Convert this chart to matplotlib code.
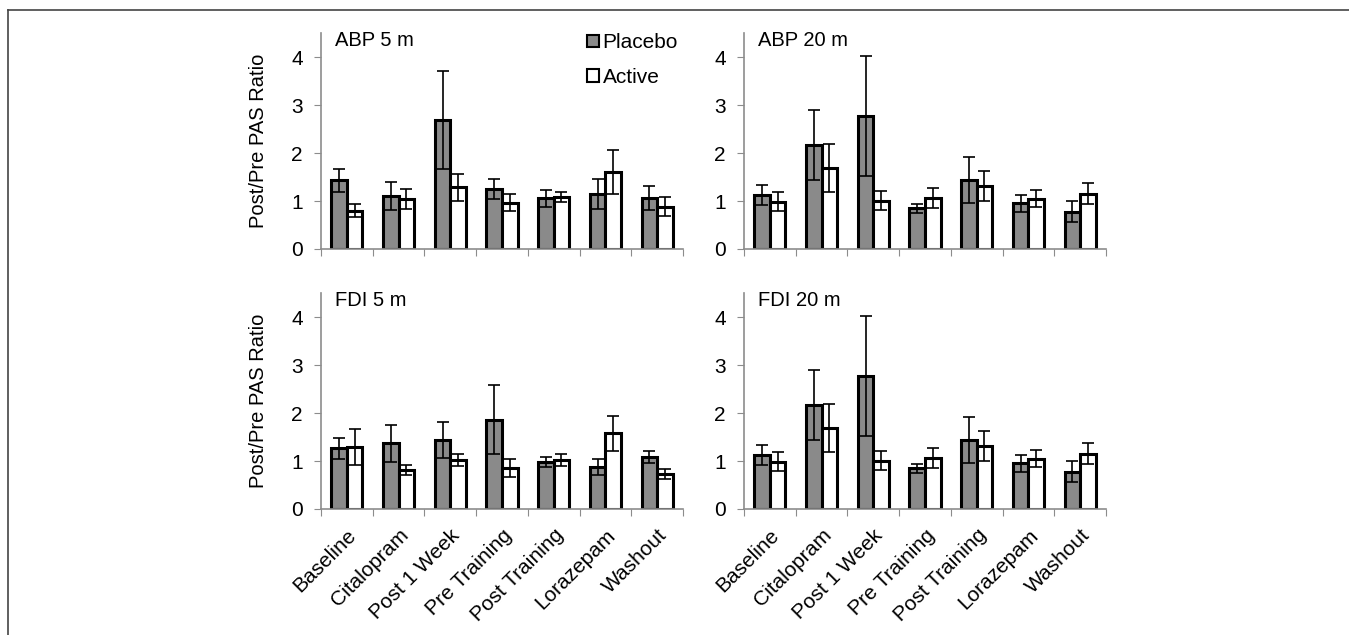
import matplotlib.pyplot as plt
import numpy as np
from matplotlib.patches import Patch
from matplotlib.lines import Line2D

plt.rcParams['font.family'] = ['Liberation Sans', 'DejaVu Sans']

conditions = ['Baseline', 'Citalopram', 'Post 1 Week', 'Pre Training',
              'Post Training', 'Lorazepam', 'Washout']

# ABP 5 m
abp5_placebo = [1.43, 1.11, 2.69, 1.25, 1.06, 1.15, 1.07]
abp5_placebo_err = [0.24, 0.29, 1.03, 0.21, 0.18, 0.32, 0.25]
abp5_active = [0.80, 1.04, 1.29, 0.97, 1.08, 1.61, 0.88]
abp5_active_err = [0.14, 0.21, 0.28, 0.18, 0.10, 0.46, 0.20]

# ABP 20 m
abp20_placebo = [1.12, 2.17, 2.77, 0.85, 1.44, 0.95, 0.78]
abp20_placebo_err = [0.21, 0.73, 1.25, 0.09, 0.48, 0.18, 0.22]
abp20_active = [0.99, 1.69, 1.01, 1.06, 1.31, 1.05, 1.15]
abp20_active_err = [0.19, 0.50, 0.20, 0.21, 0.31, 0.18, 0.22]

# FDI 5 m
fdi5_placebo = [1.27, 1.37, 1.44, 1.86, 0.98, 0.88, 1.09]
fdi5_placebo_err = [0.22, 0.38, 0.38, 0.72, 0.10, 0.17, 0.12]
fdi5_active = [1.30, 0.81, 1.02, 0.85, 1.02, 1.58, 0.73]
fdi5_active_err = [0.38, 0.11, 0.13, 0.19, 0.13, 0.37, 0.10]

# FDI 20 m
fdi20_placebo = [1.12, 2.17, 2.77, 0.85, 1.44, 0.95, 0.78]
fdi20_placebo_err = [0.21, 0.73, 1.25, 0.09, 0.48, 0.18, 0.22]
fdi20_active = [0.99, 1.69, 1.01, 1.06, 1.31, 1.05, 1.15]
fdi20_active_err = [0.19, 0.50, 0.20, 0.21, 0.31, 0.18, 0.22]

panels = [
    ('ABP 5 m', abp5_placebo, abp5_placebo_err, abp5_active, abp5_active_err),
    ('ABP 20 m', abp20_placebo, abp20_placebo_err, abp20_active, abp20_active_err),
    ('FDI 5 m', fdi5_placebo, fdi5_placebo_err, fdi5_active, fdi5_active_err),
    ('FDI 20 m', fdi20_placebo, fdi20_placebo_err, fdi20_active, fdi20_active_err),
]

fig = plt.figure(figsize=(13.49, 6.35), dpi=100)
W, H = 1349, 635
lefts = [321, 744]
bottoms = [249, 509]
aw, ah = 362, 215.6

x = np.arange(len(conditions))
bw = 0.3
grey = '#8a8a8a'
spine = '#8c8c8c'

axes = []
for i, (title, pl, pl_err, ac, ac_err) in enumerate(panels):
    r, c = divmod(i, 2)
    ax = fig.add_axes([lefts[c] / W, (H - bottoms[r]) / H, aw / W, ah / H])
    axes.append(ax)
    ax.bar(x - bw / 2, pl, bw, color=grey, edgecolor='black', linewidth=2.2, zorder=2)
    ax.bar(x + bw / 2, ac, bw, color='white', edgecolor='black', linewidth=2.2, zorder=2)
    ax.errorbar(x - bw / 2, pl, yerr=pl_err, fmt='none', ecolor='black',
                elinewidth=1.2, capsize=4.3, capthick=1.2, zorder=3)
    ax.errorbar(x + bw / 2, ac, yerr=ac_err, fmt='none', ecolor='black',
                elinewidth=1.2, capsize=4.3, capthick=1.2, zorder=3)

    ax.set_xlim(-0.5, len(conditions) - 0.5)
    ax.set_ylim(0, 4.5)
    ax.set_yticks([0, 1, 2, 3, 4])
    ax.set_xticks(np.arange(-0.5, len(conditions)), minor=False)
    ax.set_xticklabels([])
    ax.set_xticks(x, minor=True)
    ax.tick_params(axis='x', which='major', length=5, color=spine, direction='out')
    ax.tick_params(axis='x', which='minor', length=0)
    ax.tick_params(axis='y', length=5, color=spine, labelsize=15, pad=8)
    for s in ['top', 'right']:
        ax.spines[s].set_visible(False)
    for s in ['left', 'bottom']:
        ax.spines[s].set_color(spine)
        ax.spines[s].set_linewidth(1.2)

    ax.text(0.039, 0.965, title, transform=ax.transAxes, fontsize=14.5,
            ha='left', va='center')

    if c == 0:
        ax.text(-0.174, 0.5, 'Post/Pre PAS Ratio', transform=ax.transAxes,
                rotation=90, fontsize=14.5, ha='center', va='center')

    if r == 1:
        ax.set_xticklabels(conditions, minor=True, rotation=45, ha='right',
                           va='top', rotation_mode='anchor', fontsize=15)
        ax.tick_params(axis='x', which='minor', pad=12)

handles = [Patch(facecolor=grey, edgecolor='black', linewidth=1.5, label='Placebo'),
           Patch(facecolor='white', edgecolor='black', linewidth=1.5, label='Active')]
axes[0].legend(handles=handles, loc='upper left', bbox_to_anchor=(0.735, 1.0),
               frameon=False, fontsize=15, handlelength=0.55, handleheight=0.55,
               handletextpad=0.2, labelspacing=0.75, borderpad=0, borderaxespad=0)

# outer frame
fig.add_artist(Line2D([8 / W, 1], [1 - 10 / H, 1 - 10 / H], color='#444444', linewidth=1.2))
fig.add_artist(Line2D([8 / W, 8 / W], [0, 1 - 10 / H], color='#444444', linewidth=1.2))

fig.savefig('out.png', dpi=100)
